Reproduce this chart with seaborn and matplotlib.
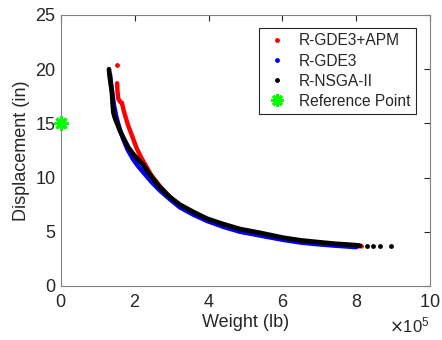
import numpy as np
import pandas as pd
import matplotlib.pyplot as plt
import seaborn as sns
from matplotlib.lines import Line2D
from matplotlib.ticker import ScalarFormatter

# Pareto fronts (weight in 1e5 lb, displacement in in)
red_w = [1.52, 1.53, 1.55, 1.60, 1.65, 1.69, 1.73, 1.82, 1.92, 2.05, 2.18, 2.28, 2.45, 2.68,
         2.95, 3.22, 3.6, 3.96, 4.4, 4.85, 5.39, 6.02, 6.5, 6.94, 7.4, 7.9, 8.15]
red_d = [18.7, 18.0, 17.3, 17.0, 16.9, 16.3, 15.8, 14.8, 13.9, 12.7, 11.8, 11.2, 10.2, 9.2,
         8.2, 7.4, 6.6, 6.0, 5.5, 5.05, 4.7, 4.3, 4.05, 3.9, 3.78, 3.68, 3.65]
red_out_w = [1.52]
red_out_d = [20.4]

blue_w = [1.33, 1.36, 1.40, 1.44, 1.50, 1.58, 1.68, 1.80, 1.95, 2.10, 2.25, 2.45, 2.68, 2.95,
          3.22, 3.6, 3.96, 4.4, 4.85, 5.39, 6.02, 6.5, 6.94, 7.4, 7.9, 8.0]
blue_d = [19.5, 18.5, 17.5, 16.6, 15.6, 14.6, 13.6, 12.6, 11.7, 11.0, 10.4, 9.6, 8.8, 8.0,
          7.25, 6.55, 6.0, 5.45, 5.0, 4.65, 4.25, 4.0, 3.85, 3.72, 3.6, 3.58]

black_w = [1.30, 1.32, 1.35, 1.38, 1.40, 1.42, 1.47, 1.52, 1.60, 1.70, 1.82, 1.95, 2.08, 2.22,
           2.40, 2.68, 2.95, 3.22, 3.6, 3.96, 4.4, 4.85, 5.39, 6.02, 6.5, 6.94, 7.4, 7.91, 8.1]
black_d = [20.0, 19.3, 18.6, 17.9, 16.8, 16.0, 15.4, 15.0, 14.3, 13.6, 12.8, 12.2, 11.7, 11.2,
           10.3, 9.1, 8.2, 7.5, 6.8, 6.2, 5.7, 5.25, 4.9, 4.45, 4.2, 4.05, 3.9, 3.78, 3.72]
black_tail_w = [8.29, 8.46, 8.64, 8.94]
black_tail_d = [3.70, 3.68, 3.68, 3.66]

ref_w = [0.0]
ref_d = [15.0]

scale = 1e5
sns.set_style("white")
plt.rcParams['font.family'] = ['Liberation Sans', 'DejaVu Sans']

fig = plt.figure(figsize=(4.42, 3.4), dpi=100)
ax = fig.add_axes([0.138, 0.159, 0.835, 0.797])

fronts = [
    (red_w, red_d, '#ff0000', 3.2),
    (blue_w, blue_d, '#0000ff', 3.2),
    (black_w, black_d, '#000000', 3.4),
]
for w, d, c, lw in fronts:
    df = pd.DataFrame({'w': np.array(w) * scale, 'd': d})
    sns.lineplot(data=df, x='w', y='d', sort=False, estimator=None, color=c,
                 linewidth=lw, ax=ax, solid_capstyle='round')

sns.scatterplot(x=np.array(red_out_w) * scale, y=red_out_d, color='#ff0000', s=12,
                linewidth=0, ax=ax)
sns.scatterplot(x=np.array(black_tail_w) * scale, y=black_tail_d, color='#000000', s=12,
                linewidth=0, ax=ax)
ax.plot(np.array(ref_w) * scale, ref_d, marker=(8, 2, 0), color='#00ff00', markersize=10,
        markeredgewidth=2.2, linestyle='none', clip_on=False, zorder=5)

ax.set_xlim(0, 10 * scale)
ax.set_ylim(0, 25)
ax.set_xticks(np.arange(0, 11, 2) * scale)
ax.set_yticks(np.arange(0, 26, 5))
fmt = ScalarFormatter(useMathText=True)
fmt.set_powerlimits((5, 5))
ax.xaxis.set_major_formatter(fmt)
ax.xaxis.get_offset_text().set_fontsize(12)
ax.xaxis.get_offset_text().set_color('#262626')

ax.set_xlabel('Weight (lb)', fontsize=13, color='#262626', labelpad=2)
ax.set_ylabel('Displacement (in)', fontsize=13, color='#262626', labelpad=4)
ax.tick_params(direction='in', length=4, width=0.8, labelsize=13, colors='#262626',
               top=True, right=True)
ax.tick_params(axis='x', pad=6)
ax.tick_params(axis='y', pad=4)
for sp in ax.spines.values():
    sp.set_color('#808080')
    sp.set_linewidth(0.8)
    sp.set_visible(True)

handles = [
    Line2D([], [], marker='.', color='#ff0000', linestyle='none', markersize=5),
    Line2D([], [], marker='.', color='#0000ff', linestyle='none', markersize=5),
    Line2D([], [], marker='.', color='#000000', linestyle='none', markersize=5),
    Line2D([], [], marker=(8, 2, 0), color='#00ff00', linestyle='none', markersize=9,
           markeredgewidth=2),
]
labels = ['R-GDE3+APM', 'R-GDE3', 'R-NSGA-II', 'Reference Point']
leg = ax.legend(handles, labels, loc='upper right', bbox_to_anchor=(0.962, 0.952),
                borderaxespad=0, fontsize=11.2, frameon=True, fancybox=False, framealpha=1,
                edgecolor='#262626', handletextpad=0.6, borderpad=0.35,
                labelspacing=0.33, handlelength=1.6)
leg.get_frame().set_linewidth(0.8)

fig.savefig('out.png', dpi=100)
